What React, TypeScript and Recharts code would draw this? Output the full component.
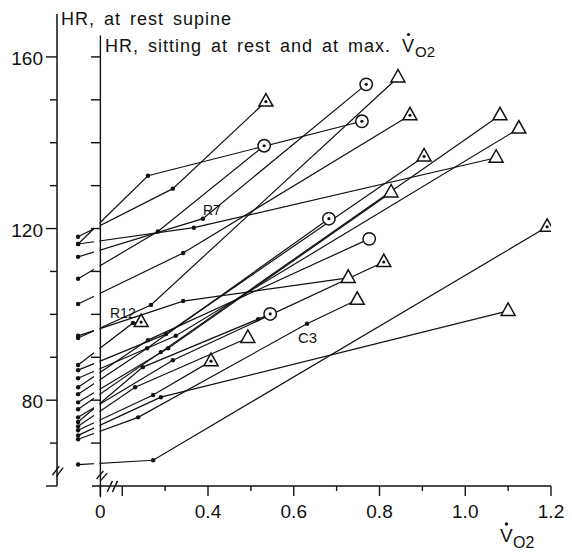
import { ComposedChart, Line, Scatter, XAxis, YAxis, ReferenceLine } from 'recharts';

// one entry per subject: supine HR, sitting rest (VO2, HR), max (VO2, HR)
const supineHR = [118.1, 116.4, 113.4, 94.5, 108.3, 102.4, 87.0, 77.9, 85.1, 116.4, 79.5, 81.4, 83.0, 76.0, 95.0, 70.9, 71.8, 65.0, 74.9, 73.9, 73.0, 88.2];
const restVO2 = [0.318, 0.26, 0.388, 0.267, 0.283, 0.342, 0.302, 0.29, 0.325, 0.367, 0.307, 0.258, 0.26, 0.318, 0.342, 0.237, 0.29, 0.272, 0.248, 0.23, 0.272, 0.225];
const restHR = [129.3, 132.3, 122.3, 102.2, 119.3, 114.3, 95.4, 91.2, 95.0, 120.2, 92.1, 92.1, 94.0, 89.3, 103.1, 76.0, 80.7, 66.0, 87.7, 83.0, 81.2, 98.0];
const midVO2: (number | null)[] = [null, null, null, null, null, null, null, null, null, null, null, null, null, null, null, 0.631, null, null, 0.517, null, null, null];
const midHR: (number | null)[] = [null, null, null, null, null, null, null, null, null, null, null, null, null, null, null, 97.8, null, null, 98.9, null, null, null];
const maxVO2 = [0.535, 0.759, 0.769, 0.843, 0.531, 0.871, 0.904, 1.081, 1.125, 1.072, 0.827, 0.682, 0.776, 0.81, 0.727, 0.748, 1.1, 1.191, 0.545, 0.493, 0.407, 0.244];
const maxHR = [149.6, 145.0, 153.6, 155.2, 139.3, 146.4, 136.8, 146.4, 143.3, 136.5, 128.4, 122.3, 117.6, 112.2, 108.5, 103.4, 100.8, 120.4, 100.1, 94.5, 89.1, 98.2];
const maxMarker = ['triDot', 'circDot', 'circDot', 'tri', 'circDot', 'triDot', 'triDot', 'tri', 'tri', 'tri', 'tri', 'circDot', 'circ', 'triDot', 'tri', 'tri', 'tri', 'triDot', 'circDot', 'tri', 'triDot', 'triDot'];

const xTicks = [0.149, 0.2, 0.3, 0.4, 0.5, 0.6, 0.7, 0.8, 0.9, 1.0, 1.1, 1.2];
const xLabels: Record<string, string> = { '0.149': '0', '0.4': '0.4', '0.6': '0.6', '0.8': '0.8', '1': '1.0', '1.2': '1.2' };
const yTicks = [60, 70, 80, 90, 100, 110, 120, 130, 140, 150, 160];
const yLabels = [80, 120, 160];
const innerTicks = [70, 80, 90, 100, 110, 120, 130, 140, 150, 160];

const SUPINE_X = 0.097;
const AXIS2_X = 0.149;
const GAP_X = 0.1405;
const INK = '#111';
const FONT = '"Liberation Sans", Arial, sans-serif';

const series = supineHR.map((s, i) => {
  const pts = [{ x: SUPINE_X, y: s }, { x: restVO2[i], y: restHR[i] }];
  if (midVO2[i] != null) pts.push({ x: midVO2[i] as number, y: midHR[i] as number });
  pts.push({ x: maxVO2[i], y: maxHR[i] });
  return pts;
});

const maxPoints = maxVO2.map((x, i) => ({ x, y: maxHR[i], kind: maxMarker[i] }));

function Marker(props: any) {
  const { cx, cy, payload } = props;
  if (cx == null || cy == null) return null;
  const kind = payload.kind;
  if (kind === 'tri' || kind === 'triDot') {
    return (
      <g>
        <polygon points={`${cx},${cy - 8} ${cx - 7},${cy + 4.5} ${cx + 7},${cy + 4.5}`} fill="#fff" stroke={INK} strokeWidth={1.5} />
        {kind === 'triDot' && <circle cx={cx} cy={cy} r={1.6} fill={INK} />}
      </g>
    );
  }
  return (
    <g>
      <circle cx={cx} cy={cy} r={6.2} fill="#fff" stroke={INK} strokeWidth={1.5} />
      {kind === 'circDot' && <circle cx={cx} cy={cy} r={1.6} fill={INK} />}
    </g>
  );
}

function XTick({ x, y, payload }: any) {
  const v = payload.value;
  const label = xLabels[String(v)];
  const major = label != null || v === 0.2;
  return (
    <g>
      <line x1={x} x2={x} y1={y} y2={y + (major ? 10 : 5)} stroke={INK} strokeWidth={1.4} />
      {label ? (
        <text x={x} y={y + 32} textAnchor="middle" fontSize={19} fontFamily={FONT} fill={INK}>
          {label}
        </text>
      ) : null}
    </g>
  );
}

function YTick({ x, y, payload }: any) {
  const v = payload.value;
  const labelled = yLabels.includes(v);
  const len = labelled || v === 60 ? 11 : 7;
  return (
    <g>
      <line x1={x - len} x2={x} y1={y} y2={y} stroke={INK} strokeWidth={1.4} />
      {labelled ? (
        <text x={x - 14} y={y + 8} textAnchor="end" fontSize={19} fontFamily={FONT} fill={INK}>
          {v}
        </text>
      ) : null}
    </g>
  );
}

const seg = (x1: number, y1: number, x2: number, y2: number, key: string) => (
  <ReferenceLine key={key} segment={[{ x: x1, y: y1 }, { x: x2, y: y2 }]} stroke={INK} strokeWidth={1.4} ifOverflow="visible" />
);

export default function App() {
  return (
    <div style={{ position: 'relative', width: 564, height: 544 }}>
      <ComposedChart width={564} height={544} margin={{ top: 6, right: 21, bottom: 0, left: 0 }}>
        <XAxis
          type="number"
          dataKey="x"
          domain={[0.0478, 1.2]}
          ticks={xTicks}
          interval={0}
          allowDataOverflow
          axisLine={false}
          tickLine={false}
          tickSize={0}
          tickMargin={0}
          height={66}
          tick={<XTick />}
        />
        <YAxis
          type="number"
          dataKey="y"
          domain={[60, 170]}
          ticks={yTicks}
          interval={0}
          allowDataOverflow
          width={49}
          axisLine={{ stroke: INK, strokeWidth: 1.5 }}
          tickLine={false}
          tickSize={0}
          tickMargin={0}
          tick={<YTick />}
        />
        {series.map((pts, i) => (
          <Line
            key={`s${i}`}
            data={pts}
            dataKey="y"
            type="linear"
            stroke={INK}
            strokeWidth={1.2}
            isAnimationActive={false}
            activeDot={false}
            dot={(p: any) =>
              p.index === pts.length - 1 ? (
                <g key={`d${i}-${p.index}`} />
              ) : (
                <circle key={`d${i}-${p.index}`} cx={p.cx} cy={p.cy} r={2.2} fill={INK} />
              )
            }
          />
        ))}
        {/* white band: the lines are broken where they cross the second axis */}
        <Line
          data={[{ x: GAP_X, y: 60.6 }, { x: GAP_X, y: 169 }]}
          dataKey="y"
          stroke="#fff"
          strokeWidth={5.5}
          dot={false}
          activeDot={false}
          isAnimationActive={false}
        />
        {seg(0.1294, 60, 1.2, 60, 'xaxis')}
        {seg(AXIS2_X, 57.4, AXIS2_X, 165, 'axis2')}
        {innerTicks.map((t) => seg(0.127, t, AXIS2_X, t, `it${t}`))}
        {seg(0.037, 62.5, 0.053, 64.6, 'b1')}
        {seg(0.046, 62.2, 0.062, 64.3, 'b2')}
        {seg(0.14, 61.6, 0.156, 63.5, 'b3')}
        {seg(0.149, 61.2, 0.165, 63.0, 'b4')}
        {seg(0.165, 58.6, 0.177, 61.2, 'b5')}
        {seg(0.177, 58.6, 0.189, 61.2, 'b6')}
        <Scatter data={maxPoints} isAnimationActive={false} shape={(p: any) => <Marker {...p} />} />
      </ComposedChart>
      <svg width={564} height={544} style={{ position: 'absolute', left: 0, top: 0, pointerEvents: 'none' }} fontFamily={FONT} fill={INK}>
        <text x={53} y={17} fontSize={18} letterSpacing={1} wordSpacing={3}>HR, at rest supine</text>
        <text x={97} y={44} fontSize={18} letterSpacing={1} wordSpacing={3}>HR, sitting at rest and at max.</text>
        <text x={394} y={44} fontSize={18}>V</text>
        <circle cx={400.5} cy={26.5} r={1.6} fill={INK} />
        <text x={407} y={49} fontSize={15}>O2</text>
        <text x={195} y={207} fontSize={14}>R7</text>
        <text x={102} y={310} fontSize={14}>R12</text>
        <text x={290} y={335} fontSize={15}>C3</text>
        <text x={492} y={534} fontSize={19}>V</text>
        <circle cx={498.5} cy={516} r={1.7} fill={INK} />
        <text x={505} y={540} fontSize={16}>O2</text>
      </svg>
    </div>
  );
}
